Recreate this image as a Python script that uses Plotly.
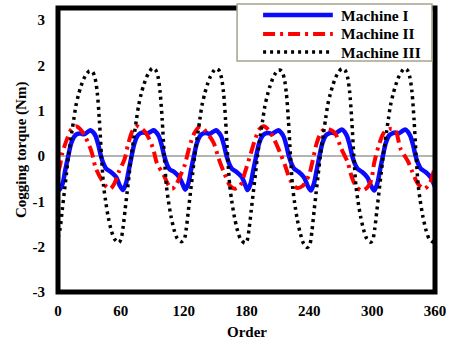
import plotly.graph_objects as go

# Rotor position (electrical order, degrees) and cogging torque (Nm) for each machine
m1_angle = [0, 1.5, 4.5, 7, 9.5, 12.5, 15.5, 18.5, 21.5, 24.5, 27.5, 31, 33.5, 36, 38.5, 41, 43.5, 46, 50.5, 55.5, 59,
            62, 65, 67.5, 70, 73, 76, 79, 82, 85, 88, 91.5, 94, 96.5, 99, 101.5, 104, 106.5, 111, 116, 119.5,
            121.5, 124.5, 127, 129.5, 132.5, 135.5, 138.5, 141.5, 144.5, 147.5, 151, 153.5, 156, 158.5, 161, 163.5, 166, 170.5, 175.5, 179,
            181, 184, 186.5, 189, 192, 195, 198, 201, 204, 207, 210.5, 213, 215.5, 218, 220.5, 223, 225.5, 230, 235, 238.5,
            241.5, 244.5, 247, 249.5, 252.5, 255.5, 258.5, 261.5, 264.5, 267.5, 271, 273.5, 276, 278.5, 281, 283.5, 286, 290.5, 295.5, 299,
            302, 305, 307.5, 310, 313, 316, 319, 322, 325, 328, 331.5, 334, 336.5, 339, 341.5, 344, 346.5, 351, 356, 360]
m1_torque = [-0.72, -0.74, -0.6, -0.3, -0.03, 0.28, 0.43, 0.49, 0.5, 0.48, 0.52, 0.57, 0.53, 0.44, 0.25, 0.0, -0.17, -0.28, -0.35, -0.46, -0.65,
             -0.75, -0.6, -0.32, -0.03, 0.28, 0.45, 0.51, 0.52, 0.5, 0.53, 0.57, 0.52, 0.43, 0.24, 0.0, -0.18, -0.29, -0.35, -0.47, -0.65,
             -0.74, -0.6, -0.31, -0.03, 0.28, 0.44, 0.5, 0.51, 0.49, 0.53, 0.57, 0.52, 0.43, 0.24, 0.0, -0.17, -0.28, -0.35, -0.46, -0.65,
             -0.75, -0.6, -0.31, -0.03, 0.28, 0.44, 0.5, 0.51, 0.49, 0.53, 0.57, 0.52, 0.43, 0.24, 0.0, -0.17, -0.28, -0.35, -0.47, -0.66,
             -0.76, -0.6, -0.31, -0.02, 0.29, 0.45, 0.5, 0.52, 0.5, 0.54, 0.59, 0.54, 0.44, 0.25, 0.0, -0.17, -0.28, -0.35, -0.47, -0.66,
             -0.76, -0.6, -0.31, -0.02, 0.29, 0.45, 0.5, 0.52, 0.5, 0.54, 0.59, 0.54, 0.44, 0.25, 0.0, -0.17, -0.28, -0.35, -0.47, -0.68]

m2_angle = [0, 2, 4, 8.5, 12.5, 17, 21, 26, 32, 36, 42, 46, 50, 54, 58, 63.5, 67, 71, 75, 79,
            84, 90.5, 94.5, 101, 105, 109, 113, 117, 121, 125, 130, 136, 141, 148.5, 153.5, 158.5, 164.5, 169, 174, 178.5,
            184, 188.5, 192.5, 196.5, 201, 206, 212.5, 217.5, 222, 228, 233.5, 239.5, 243.5, 247, 252, 258, 264.5, 270, 276.5, 280.5,
            285, 290, 295, 299, 302, 306, 311, 317, 322, 327, 334.5, 338, 344, 350, 355, 360]
m2_torque = [-0.35, -0.2, 0.06, 0.37, 0.58, 0.66, 0.6, 0.43, 0.1, -0.26, -0.54, -0.67, -0.72, -0.6, -0.35, -0.07, 0.27, 0.55, 0.66, 0.62,
             0.51, 0.19, -0.16, -0.42, -0.62, -0.72, -0.62, -0.42, -0.2, 0.16, 0.5, 0.66, 0.55, 0.3, -0.06, -0.36, -0.66, -0.72, -0.65, -0.36,
             0.05, 0.39, 0.6, 0.66, 0.58, 0.39, 0.05, -0.25, -0.54, -0.7, -0.66, -0.43, -0.07, 0.28, 0.55, 0.6, 0.51, 0.19, -0.13, -0.46,
             -0.68, -0.76, -0.7, -0.54, -0.14, 0.21, 0.51, 0.6, 0.58, 0.17, -0.13, -0.33, -0.62, -0.72, -0.6, -0.22]

m3_angle = [0, 2, 4, 6, 8, 10, 13, 15, 17, 19.5, 22, 24.5, 27.5, 30, 33, 35.5, 37.5, 39.5, 41.5, 43.5, 45.5, 48, 51, 54, 58,
            60, 62, 64, 66, 68, 70, 73, 75, 77, 79.5, 82, 84.5, 87.5, 90, 93, 95.5, 97.5, 99.5, 101.5, 103.5, 105.5, 108, 111, 114, 118,
            120.5, 122.5, 124.5, 126.5, 128.5, 130.5, 133.5, 135.5, 137.5, 140, 142.5, 145, 148, 150.5, 153.5, 156, 158, 160, 162, 164, 166, 168.5, 171.5, 174.5, 178.5,
            180.5, 182.5, 184.5, 186.5, 188.5, 190.5, 193.5, 195.5, 197.5, 200, 202.5, 205, 208, 210.5, 213.5, 216, 218, 220, 222, 224, 226, 228.5, 231.5, 234.5, 238,
            240.5, 242.5, 244.5, 246.5, 248.5, 250.5, 253.5, 255.5, 257.5, 260, 262.5, 265, 268, 271, 274, 276.5, 278.5, 280.5, 282.5, 284.5, 286.5, 289, 292, 295, 298.5,
            300.5, 302.5, 304.5, 306.5, 308.5, 310.5, 313.5, 315.5, 317.5, 320, 322.5, 325, 328, 330.5, 333.5, 336, 338, 340, 342, 344, 346, 348.5, 351.5, 354.5, 358.5, 360]
m3_torque = [-1.8, -1.6, -1.2, -0.8, -0.4, 0, 0.5, 0.8, 1.1, 1.35, 1.55, 1.7, 1.82, 1.88, 1.86, 1.71, 1.4, 0.8, 0, -0.65, -1.0, -1.35, -1.65, -1.83, -1.91,
             -1.85, -1.6, -1.2, -0.8, -0.4, 0, 0.5, 0.82, 1.12, 1.38, 1.58, 1.74, 1.87, 1.94, 1.91, 1.75, 1.42, 0.8, 0, -0.65, -1.0, -1.34, -1.64, -1.82, -1.89,
             -1.84, -1.6, -1.2, -0.8, -0.4, 0, 0.5, 0.82, 1.12, 1.37, 1.57, 1.73, 1.86, 1.93, 1.9, 1.74, 1.42, 0.8, 0, -0.65, -1.0, -1.35, -1.65, -1.84, -1.92,
             -1.87, -1.6, -1.2, -0.8, -0.4, 0, 0.5, 0.8, 1.1, 1.35, 1.55, 1.71, 1.84, 1.9, 1.88, 1.72, 1.4, 0.8, 0, -0.67, -1.04, -1.4, -1.72, -1.93, -2.02,
             -1.95, -1.65, -1.22, -0.8, -0.4, 0, 0.5, 0.82, 1.12, 1.37, 1.57, 1.73, 1.86, 1.93, 1.9, 1.74, 1.42, 0.8, 0, -0.65, -1.0, -1.34, -1.64, -1.83, -1.9,
             -1.85, -1.6, -1.2, -0.8, -0.4, 0, 0.5, 0.82, 1.12, 1.37, 1.57, 1.73, 1.86, 1.93, 1.9, 1.74, 1.42, 0.8, 0, -0.65, -1.0, -1.34, -1.64, -1.83, -1.9, -1.88]

x_ticks = [0, 60, 120, 180, 240, 300, 360]
y_ticks = [-3, -2, -1, 0, 1, 2, 3]

FONT = "Liberation Serif"

series = [
    ("Machine I", m1_angle, m1_torque, dict(color="#0a0aff", width=4.5)),
    ("Machine II", m2_angle, m2_torque, dict(color="#ff0000", width=4, dash="12px,5px,3px,5px")),
    ("Machine III", m3_angle, m3_torque, dict(color="#000000", width=3.5, dash="3px,4px")),
]

fig = go.Figure()
for name, xs, ys, style in series:
    fig.add_trace(go.Scatter(x=xs, y=ys, mode="lines", name=name,
                             line=dict(shape="spline", smoothing=0.8, **style)))

# Boxed legend in the upper right, drawn over the plot frame
legend_box = dict(type="rect", xref="paper", yref="paper", x0=0.475, x1=0.992, y0=0.813, y1=1.014,
                  fillcolor="white", line=dict(color="#a8a38a", width=1.5), layer="above")
legend_rows = [0.975, 0.9085, 0.845]
shapes = [dict(type="rect", xref="paper", yref="paper", x0=0, x1=1, y0=0, y1=1,
               line=dict(color="black", width=5), layer="above"),
          legend_box]
annotations = []
for (name, _, _, style), ry in zip(series, legend_rows):
    shapes.append(dict(type="line", xref="paper", yref="paper", x0=0.544, x1=0.729, y0=ry, y1=ry,
                       line=style, layer="above"))
    annotations.append(dict(text=f"<b>{name}</b>", xref="paper", yref="paper", x=0.746, y=ry,
                            xanchor="left", yanchor="middle", showarrow=False,
                            font=dict(family=FONT, size=15.5, color="black")))

annotations += [
    dict(text="<b>Order</b>", xref="paper", yref="paper", x=0.5, y=0, yshift=-40,
         showarrow=False, font=dict(family=FONT, size=15), yanchor="middle"),
    dict(text="<b>Cogging torque (Nm)</b>", xref="paper", yref="paper", x=0, xshift=-37, y=0.5,
         textangle=-90, showarrow=False, font=dict(family=FONT, size=15), xanchor="center"),
]

fig.update_layout(
    width=454, height=345,
    margin=dict(l=58, r=19, t=8, b=53),
    paper_bgcolor="white", plot_bgcolor="white",
    font=dict(family=FONT, size=15, color="black"),
    showlegend=False,
    xaxis=dict(range=[0, 360], tickvals=x_ticks, ticktext=[f"<b>{v}</b>" for v in x_ticks],
               showgrid=False, zeroline=False, showline=False, ticks="",
               ticklabelstandoff=8),
    yaxis=dict(range=[-3, 3.27], tickvals=y_ticks, ticktext=[f"<b>{v}</b>" for v in y_ticks],
               showgrid=False, zeroline=True, zerolinecolor="#b4b4b4", zerolinewidth=2,
               showline=False, ticks="", ticklabelstandoff=12),
    shapes=shapes,
    annotations=annotations,
)

fig.write_html("out.html")
